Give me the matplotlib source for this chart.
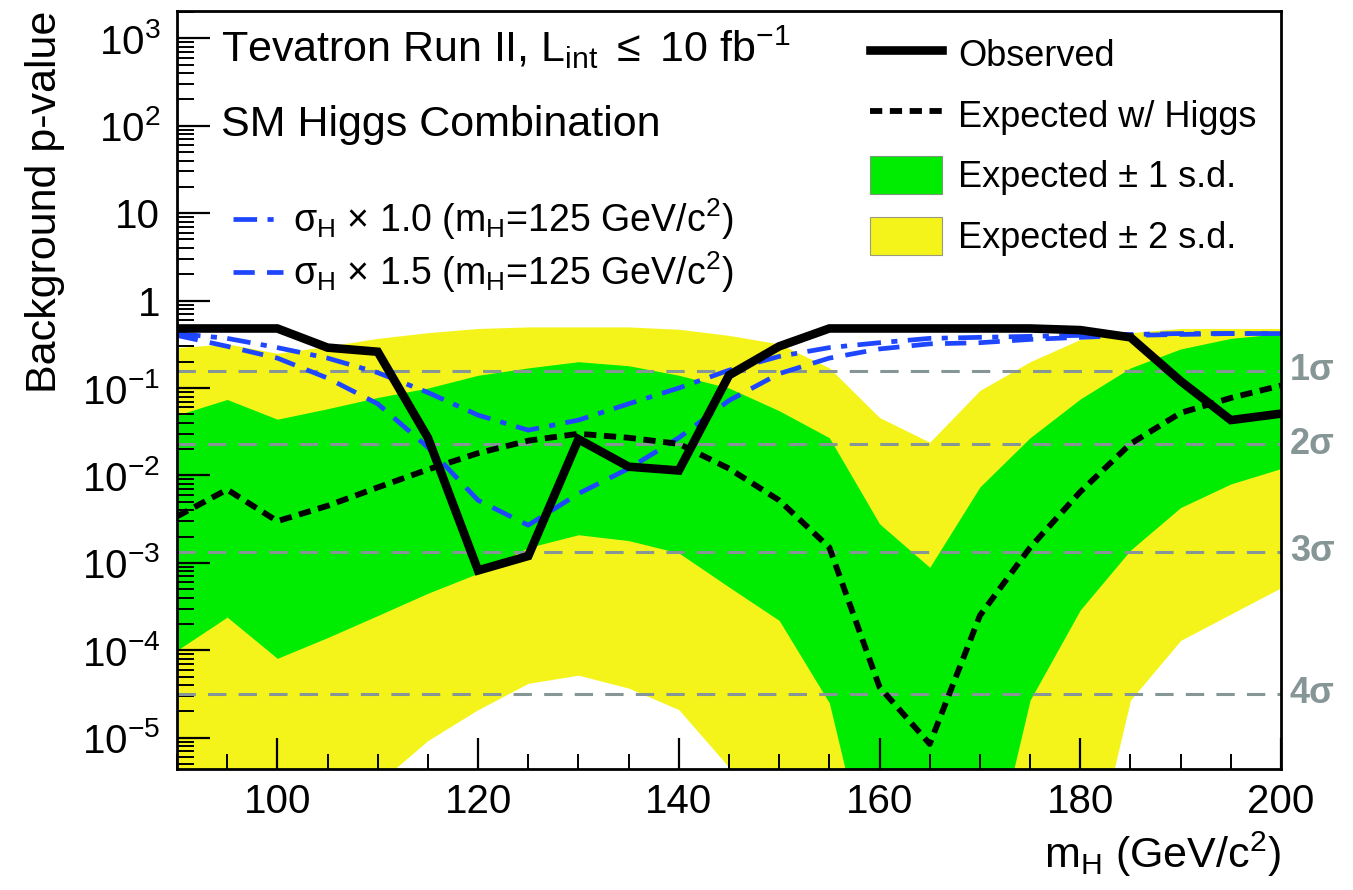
import numpy as np
import matplotlib
matplotlib.use('Agg')
import matplotlib.pyplot as plt
from matplotlib.ticker import FixedLocator, NullFormatter
from matplotlib.patches import Patch
from matplotlib.lines import Line2D

plt.rcParams['font.family'] = ['Liberation Sans', 'DejaVu Sans']
plt.rcParams['mathtext.fontset'] = 'custom'
plt.rcParams['mathtext.rm'] = 'Liberation Sans'
plt.rcParams['mathtext.it'] = 'Liberation Sans:italic'

# Higgs mass points (GeV/c^2)
mass = [90, 95, 100, 105, 110, 115, 120, 125, 130, 135, 140, 145, 150,
        155, 160, 165, 170, 175, 180, 185, 190, 195, 200]

observed = [0.48, 0.48, 0.48, 0.29, 0.26, 0.027, 8.2e-4, 1.2e-3, 0.026, 0.0126, 0.0114, 0.14, 0.30,
            0.48, 0.48, 0.48, 0.48, 0.48, 0.46, 0.38, 0.12, 0.043, 0.051]

expected = [3.4e-3, 6.9e-3, 3.0e-3, 4.5e-3, 7.3e-3, 0.0117, 0.018, 0.025, 0.030, 0.027, 0.023, 0.012, 5.2e-3,
            1.5e-3, 3.8e-5, 8.5e-6, 2.5e-4, 1.5e-3, 6.5e-3, 0.023, 0.052, 0.077, 0.107]

band1_hi = [0.049, 0.074, 0.044, 0.058, 0.078, 0.10, 0.14, 0.17, 0.20, 0.18, 0.14, 0.10, 0.055,
            0.027, 2.8e-3, 8.9e-4, 7.4e-3, 0.027, 0.075, 0.17, 0.28, 0.37, 0.42]
band1_lo = [1.0e-4, 2.4e-4, 8.1e-5, 1.4e-4, 2.5e-4, 4.5e-4, 7.6e-4, 1.5e-3, 2.1e-3, 1.8e-3, 1.3e-3, 5.3e-4, 2.2e-4,
            2.5e-5, 1e-7, 1e-8, 1e-7, 2.7e-5, 2.9e-4, 1.4e-3, 4.3e-3, 8.0e-3, 0.012]

band2_hi = [0.29, 0.32, 0.25, 0.30, 0.37, 0.43, 0.48, 0.50, 0.50, 0.50, 0.47, 0.40, 0.32,
            0.17, 0.046, 0.024, 0.094, 0.20, 0.36, 0.43, 0.48, 0.48, 0.48]
band2_lo = [2e-6, 3e-6, 1.5e-6, 2e-6, 3e-6, 9.3e-6, 2.1e-5, 4.2e-5, 5.2e-5, 3.7e-5, 2.1e-5, 4.6e-6, 1e-7,
            1e-8, 1e-9, 1e-9, 1e-9, 1e-8, 1e-7, 2.7e-5, 1.3e-4, 2.6e-4, 5.2e-4]

sig_x10 = [0.42, 0.37, 0.29, 0.22, 0.15, 0.089, 0.049, 0.033, 0.043, 0.066, 0.10, 0.16, 0.23,
           0.29, 0.33, 0.37, 0.38, 0.39, 0.40, 0.41, 0.42, 0.42, 0.42]
sig_x15 = [0.40, 0.30, 0.22, 0.13, 0.066, 0.021, 5.2e-3, 2.7e-3, 6.2e-3, 0.012, 0.027, 0.072, 0.146,
           0.22, 0.28, 0.32, 0.33, 0.36, 0.38, 0.40, 0.41, 0.42, 0.42]

sigma_names = ['1σ', '2σ', '3σ', '4σ']
sigma_p = [0.1587, 0.02275, 0.00135, 3.17e-5]

ytick_vals = [1e-5, 1e-4, 1e-3, 1e-2, 1e-1, 1, 10, 100, 1000]
ytick_labels = ['10$^{-5}$', '10$^{-4}$', '10$^{-3}$', '10$^{-2}$', '10$^{-1}$',
                '1', '10', '10$^{2}$', '10$^{3}$']

yellow = '#f4f41a'
green = '#00ec00'
blue = '#1e46ff'
grey = '#869696'

fig = plt.figure(figsize=(13.53, 8.90), dpi=100)
ax = fig.add_axes([0.1308, 0.136, 0.8160, 0.8516])

ax.fill_between(mass, band2_lo, band2_hi, color=yellow, lw=0)
ax.fill_between(mass, band1_lo, band1_hi, color=green, lw=0)

for p in sigma_p:
    ax.axhline(p, color=grey, lw=2.2, dashes=(6, 4))

ax.plot(mass, sig_x10, color=blue, lw=3.4, dashes=(5, 2.2, 1.3, 2.2))
ax.plot(mass, sig_x15, color=blue, lw=3.4, dashes=(4.5, 2.6))
ax.plot(mass, expected, color='black', lw=4.2, dashes=(2.1, 1.3))
ax.plot(mass, observed, color='black', lw=6.2, solid_joinstyle='miter')

ax.set_yscale('log')
ax.set_xlim(90, 200)
ax.set_ylim(4.4e-6, 2.05e3)

ax.yaxis.set_major_locator(FixedLocator(ytick_vals))
ax.set_yticklabels(ytick_labels)
ax.yaxis.set_minor_locator(matplotlib.ticker.LogLocator(base=10, subs=np.arange(2, 10), numticks=30))
ax.yaxis.set_minor_formatter(NullFormatter())
ax.set_xticks([100, 120, 140, 160, 180, 200])
ax.set_xticks(np.arange(90, 201, 5), minor=True)

ax.tick_params(axis='both', which='major', direction='in', labelsize=29, width=1.6, color='black')
ax.tick_params(axis='y', which='major', length=24, pad=12)
ax.tick_params(axis='y', which='minor', direction='in', length=12, width=1.4)
ax.tick_params(axis='x', which='major', length=22, pad=10)
ax.tick_params(axis='x', which='minor', direction='in', length=11, width=1.4)
for s in ax.spines.values():
    s.set_linewidth(2.0)
    s.set_zorder(5)

ax.set_xlabel('m$_{\\rm H}$ (GeV/c$^{2}$)', fontsize=31, loc='right', labelpad=6)
ax.set_ylabel('Background p-value', fontsize=31, loc='top', labelpad=12)

trans = matplotlib.transforms.blended_transform_factory(ax.transAxes, ax.transData)
for name, p in zip(sigma_names, sigma_p):
    ax.text(1.008, p, name, transform=trans, color=grey, fontsize=26, fontweight='bold',
            va='center', ha='left')

ax.text(0.04, 0.952, 'Tevatron Run II, L$_{\\rm int}$ $\\leq$ 10 fb$^{-1}$', transform=ax.transAxes,
        fontsize=31, va='center', ha='left')
ax.text(0.04, 0.85, 'SM Higgs Combination', transform=ax.transAxes,
        fontsize=31, va='center', ha='left')

left_handles = [Line2D([], [], color=blue, lw=3.4, dashes=(5, 2.2, 1.3, 2.2)),
                Line2D([], [], color=blue, lw=3.4, dashes=(4.5, 2.6))]
left_labels = ['σ$_{\\rm H}$ × 1.0 (m$_{\\rm H}$=125 GeV/c$^{2}$)',
               'σ$_{\\rm H}$ × 1.5 (m$_{\\rm H}$=125 GeV/c$^{2}$)']
leg1 = ax.legend(left_handles, left_labels, loc='upper left', bbox_to_anchor=(0.02, 0.80),
                 frameon=False, fontsize=27, handlelength=1.35, handletextpad=0.25, labelspacing=0.2)
ax.add_artist(leg1)

right_handles = [Line2D([], [], color='black', lw=6.2),
                 Line2D([], [], color='black', lw=4.2, dashes=(2.1, 1.3)),
                 Patch(facecolor=green, edgecolor='#7a9a7a', lw=0.8),
                 Patch(facecolor=yellow, edgecolor='#9a9a7a', lw=0.8)]
right_labels = ['Observed', 'Expected w/ Higgs', 'Expected ± 1 s.d.', 'Expected ± 2 s.d.']
ax.legend(right_handles, right_labels, loc='upper left', bbox_to_anchor=(0.598, 1.012),
          frameon=False, fontsize=26, handlelength=2.0, handleheight=1.25,
          handletextpad=0.45, labelspacing=0.6)

fig.savefig('out.png', dpi=100)
